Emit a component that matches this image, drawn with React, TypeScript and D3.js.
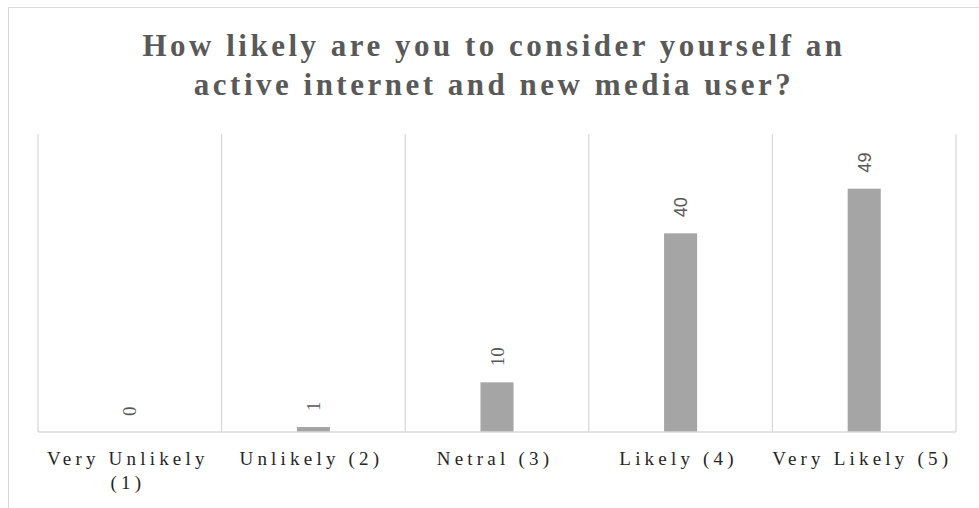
import React from "react";
import * as d3 from "d3";

const title = [
  "How likely are you to consider yourself an",
  "active internet and new media user?",
];
const categories = [
  "Very Unlikely (1)",
  "Unlikely (2)",
  "Netral (3)",
  "Likely (4)",
  "Very Likely (5)",
];
const values = [0, 1, 10, 40, 49];
const yMax = 60;

const W = 979;
const H = 508;
const plotLeft = 38;
const plotRight = 956;
const plotTop = 134;
const plotBottom = 432;

function wrapLabel(s: string): string[] {
  if (s.length <= 15) return [s];
  const i = s.lastIndexOf(" ");
  return [s.slice(0, i), s.slice(i + 1)];
}

export default function App() {
  const x = d3.scaleBand<string>().domain(categories).range([plotLeft, plotRight]).padding(0);
  const y = d3.scaleLinear().domain([0, yMax]).range([plotBottom, plotTop]);
  const bw = x.bandwidth() * 0.18;
  const serif = "'Liberation Serif', 'Times New Roman', serif";
  const sans = "'Liberation Sans', Arial, sans-serif";
  const boundaries = [...categories.map((c) => x(c) as number), plotRight];

  return (
    <div style={{ position: "absolute", left: 0, top: 0 }}>
      <svg width={W} height={H} style={{ display: "block", overflow: "hidden", background: "#fff" }}>
        <rect x={8.5} y={7.5} width={1000} height={600} fill="#fff" stroke="#d9d9d9" strokeWidth={1} />
        {title.map((t, i) => (
          <text
            key={i}
            x={494}
            y={56 + i * 38.5}
            textAnchor="middle"
            fontFamily={serif}
            fontWeight="bold"
            fontSize={31}
            letterSpacing={3.5}
            fill="#595959"
          >
            {t}
          </text>
        ))}
        {boundaries.map((b, i) => (
          <line key={i} x1={b} x2={b} y1={plotTop} y2={plotBottom} stroke="#d9d9d9" strokeWidth={1.3} />
        ))}
        {categories.map((c, i) => {
          const cx = (x(c) as number) + x.bandwidth() / 2;
          const v = values[i];
          return (
            <rect key={c} x={cx - bw / 2} y={y(v)} width={bw} height={plotBottom - y(v)} fill="#a5a5a5" />
          );
        })}
        <line x1={plotLeft} x2={plotRight} y1={plotBottom} y2={plotBottom} stroke="#d9d9d9" strokeWidth={1.3} />
        {categories.map((c, i) => {
          const cx = (x(c) as number) + x.bandwidth() / 2;
          const v = values[i];
          const ty = y(v) - 16;
          const isSans = v >= 40;
          return (
            <text
              key={c}
              transform={`translate(${cx},${ty}) rotate(-90)`}
              dy="0.35em"
              textAnchor="start"
              fontFamily={isSans ? sans : serif}
              fontSize={isSans ? 18 : 19}
              fill="#595959"
            >
              {v}
            </text>
          );
        })}
        {categories.map((c) => {
          const cx = (x(c) as number) + x.bandwidth() / 2;
          return (
            <text
              key={c}
              textAnchor="middle"
              fontFamily={serif}
              fontSize={19}
              letterSpacing={4.2}
              fill="#262626"
            >
              {wrapLabel(c).map((line, j) => (
                <tspan key={j} x={cx - 2} y={465 + j * 24}>
                  {line}
                </tspan>
              ))}
            </text>
          );
        })}
      </svg>
    </div>
  );
}
